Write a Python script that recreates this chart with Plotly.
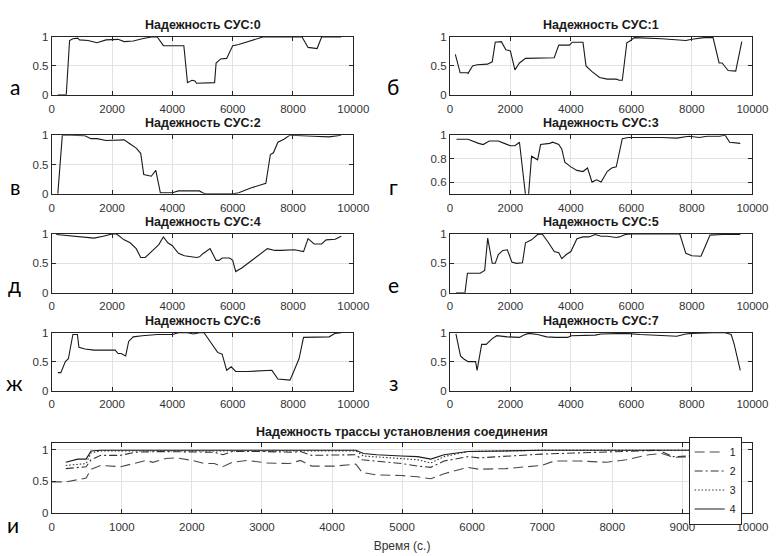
import plotly.graph_objects as go

# ---- data: СУС 0..7 reliability vs time ----
x0 = [200, 480, 590, 700, 860, 920, 1200, 1500, 1800, 2200, 2400, 2700, 3000, 3300, 3500, 3700, 4380, 4500, 4650, 4750, 4800, 5200, 5400, 5450, 5600, 5800, 6000, 6200, 7000, 8300, 8500, 8800, 8950, 9600]
y0 = [0, 0, 0.94, 0.97, 0.98, 0.95, 0.94, 0.90, 0.95, 0.96, 0.92, 0.93, 0.97, 1.0, 1.0, 0.85, 0.85, 0.21, 0.25, 0.24, 0.20, 0.20, 0.21, 0.55, 0.62, 0.63, 0.85, 0.87, 1.0, 1.0, 0.82, 0.80, 1.0, 1.0]

x1 = [180, 340, 570, 600, 750, 900, 1240, 1400, 1500, 1700, 1850, 2000, 2150, 2300, 2500, 3450, 3600, 3950, 4050, 4400, 4500, 4700, 4950, 5200, 5500, 5600, 5700, 5850, 5950, 6100, 7000, 7400, 7800, 8000, 8400, 8700, 8900, 9000, 9200, 9450, 9550, 9650]
y1 = [0.70, 0.38, 0.38, 0.37, 0.50, 0.52, 0.53, 0.57, 0.91, 0.92, 0.78, 0.76, 0.43, 0.55, 0.63, 0.64, 0.86, 0.86, 0.91, 0.91, 0.50, 0.40, 0.30, 0.27, 0.27, 0.25, 0.25, 0.90, 0.93, 0.99, 0.97, 0.96, 0.94, 0.96, 0.99, 0.99, 0.55, 0.55, 0.42, 0.41, 0.70, 0.92]

x2 = [200, 350, 600, 1100, 1300, 1500, 1800, 2400, 2600, 2800, 2950, 3050, 3300, 3450, 3600, 4000, 4200, 4900, 5000, 5100, 6000, 6200, 6600, 7100, 7250, 7350, 7500, 7700, 7900, 8200, 8700, 9200, 9400, 9600]
y2 = [0, 1.0, 1.0, 0.99, 0.94, 0.94, 0.91, 0.92, 0.85, 0.78, 0.69, 0.33, 0.30, 0.40, 0.02, 0.02, 0.05, 0.05, 0.02, 0.0, 0.0, 0.02, 0.10, 0.18, 0.67, 0.70, 0.88, 0.93, 1.0, 0.99, 0.98, 0.97, 0.98, 1.0]

x3 = [220, 600, 950, 1100, 1300, 1600, 1800, 2000, 2150, 2300, 2500, 2600, 2700, 2900, 3000, 3300, 3400, 3600, 3700, 3800, 4000, 4200, 4400, 4550, 4700, 4850, 5000, 5200, 5350, 5500, 5700, 5900, 7000, 7500, 7900, 8250, 8500, 8900, 9100, 9250, 9600]
y3 = [0.965, 0.965, 0.93, 0.92, 0.95, 0.95, 0.93, 0.91, 0.91, 0.94, 0.49, 0.49, 0.82, 0.79, 0.92, 0.93, 0.94, 0.92, 0.88, 0.77, 0.73, 0.70, 0.69, 0.72, 0.60, 0.62, 0.60, 0.69, 0.72, 0.73, 0.97, 0.98, 0.98, 0.975, 0.99, 0.98, 0.99, 0.99, 1.0, 0.94, 0.93]

x4 = [150, 500, 1000, 1400, 1700, 2000, 2150, 2400, 2600, 2800, 2950, 3100, 3350, 3550, 3700, 3850, 4000, 4200, 4400, 4800, 4900, 5000, 5250, 5450, 5550, 5650, 5900, 6000, 6100, 6300, 7150, 7400, 7600, 7800, 8050, 8350, 8500, 8700, 8950, 9100, 9400, 9600]
y4 = [0.99, 0.97, 0.95, 0.93, 0.96, 1.0, 1.0, 0.90, 0.85, 0.75, 0.60, 0.60, 0.72, 0.82, 0.95, 0.85, 0.80, 0.67, 0.63, 0.60, 0.61, 0.66, 0.75, 0.55, 0.55, 0.59, 0.59, 0.55, 0.36, 0.42, 0.75, 0.72, 0.72, 0.73, 0.73, 0.70, 0.92, 0.83, 0.83, 0.90, 0.91, 0.96]

x5 = [200, 500, 580, 1000, 1150, 1250, 1400, 1500, 1600, 1750, 1900, 2050, 2200, 2400, 2500, 2700, 2900, 3050, 3250, 3450, 3600, 3700, 3850, 4000, 4200, 4400, 4600, 4800, 5000, 5200, 5500, 5600, 5800, 6000, 7600, 7800, 8000, 8300, 8450, 8600, 9000, 9600]
y5 = [0, 0, 0.33, 0.33, 0.38, 0.93, 0.50, 0.50, 0.65, 0.72, 0.73, 0.52, 0.50, 0.51, 0.85, 0.90, 0.99, 1.0, 0.86, 0.70, 0.68, 0.58, 0.65, 0.70, 0.92, 0.95, 0.95, 0.99, 0.96, 0.96, 0.94, 0.95, 0.99, 1.0, 1.0, 0.67, 0.63, 0.62, 0.80, 0.98, 0.99, 0.99]

x6 = [200, 300, 450, 550, 700, 850, 900, 1100, 1400, 2100, 2200, 2300, 2450, 2550, 2700, 3000, 3500, 4000, 4200, 4500, 4700, 4900, 5050, 5300, 5500, 5650, 5800, 5950, 6100, 6500, 7300, 7500, 7900, 8000, 8200, 8350, 9000, 9200, 9400, 9600]
y6 = [0.31, 0.31, 0.50, 0.55, 0.97, 0.97, 0.75, 0.72, 0.70, 0.70, 0.64, 0.64, 0.60, 0.85, 0.93, 0.95, 0.97, 0.97, 1.0, 1.0, 0.98, 1.0, 1.0, 0.80, 0.66, 0.63, 0.35, 0.41, 0.33, 0.33, 0.35, 0.20, 0.18, 0.30, 0.55, 0.92, 0.93, 0.93, 0.99, 1.0]

x7 = [200, 350, 450, 600, 850, 900, 1050, 1200, 1400, 1550, 1900, 2300, 2450, 2600, 2900, 3200, 3500, 3900, 4000, 4400, 4800, 5000, 5800, 6300, 6900, 7500, 7800, 8000, 8700, 9100, 9300, 9400, 9600]
y7 = [0.98, 0.60, 0.55, 0.50, 0.50, 0.35, 0.80, 0.80, 0.90, 0.95, 0.93, 0.92, 0.96, 0.99, 0.97, 0.93, 0.92, 0.92, 0.95, 0.95, 0.96, 0.98, 0.99, 0.97, 0.95, 0.94, 0.98, 0.99, 1.0, 1.0, 0.97, 0.80, 0.35]

# ---- data: route reliability, 4 series ----
xt1 = [0, 200, 490, 560, 700, 980, 1350, 1440, 1630, 1790, 2000, 2180, 2320, 2440, 2580, 2790, 3060, 3390, 3550, 3710, 4040, 4340, 4430, 4640, 4990, 5220, 5410, 5600, 5940, 6100, 6480, 6990, 7170, 7540, 7920, 8200, 8520, 8710, 8870, 9120, 9600]
yt1 = [0.49, 0.49, 0.55, 0.69, 0.75, 0.73, 0.83, 0.80, 0.86, 0.87, 0.83, 0.78, 0.78, 0.73, 0.80, 0.83, 0.79, 0.78, 0.83, 0.74, 0.74, 0.77, 0.64, 0.60, 0.59, 0.57, 0.54, 0.62, 0.72, 0.69, 0.70, 0.75, 0.82, 0.82, 0.80, 0.84, 0.92, 0.94, 0.88, 0.89, 0.90]
xt2 = [200, 490, 560, 700, 980, 1200, 1530, 2000, 2320, 2440, 2580, 3020, 3430, 3550, 3710, 4340, 4430, 4990, 5220, 5410, 5600, 5940, 6100, 6990, 8200, 8660, 8870, 9120, 9600]
yt2 = [0.70, 0.73, 0.84, 0.91, 0.91, 0.96, 0.97, 0.97, 0.96, 0.92, 0.97, 0.97, 0.96, 0.97, 0.91, 0.92, 0.84, 0.78, 0.74, 0.72, 0.82, 0.89, 0.87, 0.93, 0.97, 0.99, 0.89, 0.90, 0.90]
xt3 = [200, 490, 560, 700, 3700, 4340, 4450, 4990, 5220, 5410, 5600, 5940, 6990, 9600]
yt3 = [0.75, 0.78, 0.95, 0.98, 0.98, 0.98, 0.90, 0.85, 0.84, 0.79, 0.89, 0.97, 0.99, 0.99]
xt4 = [200, 370, 490, 560, 700, 4340, 4450, 4640, 4990, 5220, 5410, 5600, 5940, 6990, 9600]
yt4 = [0.80, 0.85, 0.85, 0.98, 0.99, 0.99, 0.94, 0.92, 0.90, 0.89, 0.85, 0.92, 0.97, 0.99, 0.99]

series_names = ["1", "2", "3", "4"]
titles = ["Надежность СУС:%d" % i for i in range(8)]
letters = ["а", "б", "в", "г", "д", "е", "ж", "з"]
bottom_title = "Надежность трассы установления соединения"
bottom_letter = "и"
xlabel = "Время (с.)"

W, H = 783, 556
def px_x(p): return p / W
def px_y(p): return 1 - p / H

rows_px = [(31.7, 90.7), (132, 192), (233, 293), (334, 393)]
left_px = (50, 359)
right_px = (458, 768)
bottom_px = (447, 518)

LINE = "#262626"
GRID = "#e2e2e2"
TICKFONT = dict(family="Liberation Sans, Arial", size=11.5, color="#333333")

def xax(dom, dtick, anchor):
    return dict(domain=dom, range=[0, 10000], dtick=dtick, tick0=0, tickformat="d", showline=True,
                mirror="ticks", linecolor=LINE, linewidth=1, ticks="inside", ticklen=4, tickcolor=LINE,
                showgrid=True, gridcolor=GRID, zeroline=False, tickfont=TICKFONT,
                anchor=anchor, ticklabelstandoff=3)

def yax(dom, rng, tickvals, anchor):
    return dict(domain=dom, range=rng, tickvals=tickvals, showline=True, mirror="ticks",
                linecolor=LINE, linewidth=1, ticks="inside", ticklen=4, tickcolor=LINE,
                showgrid=True, gridcolor=GRID, zeroline=False, tickfont=TICKFONT,
                anchor=anchor)

xs = [x0, x1, x2, x3, x4, x5, x6, x7]
ys = [y0, y1, y2, y3, y4, y5, y6, y7]

fig = go.Figure()
layout = dict(width=W, height=H, margin=dict(l=0, r=0, t=0, b=0),
              paper_bgcolor="white", plot_bgcolor="white", showlegend=True)
annotations = []

for i in range(8):
    r, c = divmod(i, 2)
    k = i + 1
    xd = left_px if c == 0 else right_px
    yd = rows_px[r]
    xdom = [px_x(xd[0]), px_x(xd[1])]
    ydom = [px_y(yd[1]), px_y(yd[0])]
    xn = "xaxis" if k == 1 else "xaxis%d" % k
    yn = "yaxis" if k == 1 else "yaxis%d" % k
    xr = "x" if k == 1 else "x%d" % k
    yr = "y" if k == 1 else "y%d" % k
    layout[xn] = xax(xdom, 2000, yr)
    if i == 3:
        layout[yn] = yax(ydom, [0.5, 1], [0.6, 0.8, 1], xr)
    else:
        layout[yn] = yax(ydom, [0, 1], [0, 0.5, 1], xr)
    fig.add_trace(go.Scatter(x=xs[i], y=ys[i], mode="lines", xaxis=xr, yaxis=yr,
                             line=dict(color="#1a1a1a", width=1.1), showlegend=False))
    annotations.append(dict(text="<b>%s</b>" % titles[i], x=(xdom[0] + xdom[1]) / 2, y=ydom[1],
                            xref="paper", yref="paper", xanchor="center", yanchor="middle",
                            yshift=12, showarrow=False,
                            font=dict(family="Liberation Sans, Arial", size=12.5, color="#1a1a1a")))
    lx = 12 if c == 0 else 400
    ly = yd[1] - 8
    annotations.append(dict(text=letters[i], x=px_x(lx), y=px_y(ly), xref="paper", yref="paper",
                            xanchor="center", yanchor="middle", showarrow=False,
                            font=dict(family="Lato", size=21, color="black")))

# bottom plot
xdom = [px_x(50), px_x(768)]
ydom = [px_y(bottom_px[1]), px_y(bottom_px[0])]
layout["xaxis9"] = xax(xdom, 1000, "y9")
layout["xaxis9"]["title"] = dict(text=xlabel, font=dict(family="Liberation Sans, Arial", size=12, color="#333333"),
                                 standoff=9)
layout["yaxis9"] = yax(ydom, [0, 1.1], [0, 0.5, 1], "x9")

styles = [("#4a4a4a", "10px,5px"), ("#333333", "8px,3px,2px,3px"), ("#333333", "1.5px,2px"), ("#1a1a1a", "solid")]
bx = [xt1, xt2, xt3, xt4]
by = [yt1, yt2, yt3, yt4]
for j in range(4):
    fig.add_trace(go.Scatter(x=bx[j], y=by[j], mode="lines", name=series_names[j], xaxis="x9", yaxis="y9",
                             line=dict(color=styles[j][0], width=1.1, dash=styles[j][1])))

annotations.append(dict(text="<b>%s</b>" % bottom_title, x=(xdom[0] + xdom[1]) / 2, y=ydom[1],
                        xref="paper", yref="paper", xanchor="center", yanchor="middle", yshift=11,
                        showarrow=False, font=dict(family="Liberation Sans, Arial", size=12.5, color="#1a1a1a")))
annotations.append(dict(text=bottom_letter, x=px_x(10), y=px_y(530), xref="paper", yref="paper",
                        xanchor="center", yanchor="middle", showarrow=False,
                        font=dict(family="Lato", size=21, color="black")))

layout["annotations"] = annotations
layout["legend"] = dict(x=px_x(757), y=px_y(530), xanchor="right", yanchor="bottom",
                        bgcolor="white", bordercolor=LINE, borderwidth=1,
                        font=dict(family="Liberation Sans, Arial", size=10.5, color="#1a1a1a"),
                        tracegroupgap=0, itemwidth=30)
fig.update_layout(**layout)
fig.write_html("out.html")
